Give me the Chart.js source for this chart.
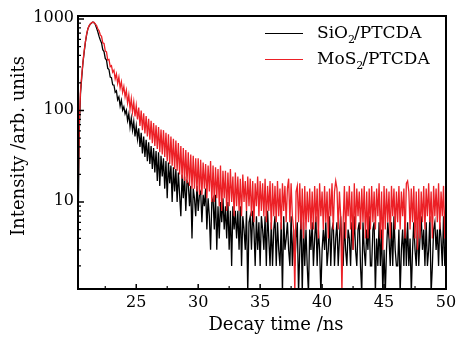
<!DOCTYPE html>
<html>
<head>
<meta charset="utf-8">
<script src="https://cdn.jsdelivr.net/npm/chart.js@4.4.1/dist/chart.umd.min.js"></script>
<style>
  html, body { margin: 0; padding: 0; background: #fff; }
  #wrap { width: 458px; height: 337px; }
</style>
</head>
<body>
<div id="wrap"><canvas id="decayChart" width="458" height="337"></canvas></div>
<script>
// time grid of the decay traces (ns), one sample every 0.1 ns from 20.2 to 50.0
const decayStart = 20.2;
const decayStep = 0.1;

// SiO2/PTCDA counts, one row per ns
const sio2Counts = [
  2, 4, 58, 152, 228, 334, 436, 562, 676, 784,
  838, 884, 906, 927, 908, 873, 796, 724, 646, 590,
  548, 462, 441, 371, 356, 289, 281, 232, 229, 191,
  190, 158, 164, 131, 141, 112, 129, 101, 110, 92,
  101, 78, 92, 66, 83, 61, 76, 52, 68, 49,
  64, 40, 57, 34, 52, 31, 48, 28, 45, 26,
  41, 23, 39, 21, 36, 17, 35, 15, 32, 19,
  30, 14, 28, 11, 27, 16, 25, 10, 24, 13,
  23, 10, 21, 12, 7, 20, 11, 19, 8, 17,
  16, 9, 15, 4, 14, 11, 7, 15, 8, 12,
  13, 6, 12, 9, 14, 5, 11, 7, 3, 10,
  11, 5, 12, 3, 9, 4, 10, 6, 11, 5,
  9, 4, 10, 3, 8, 2, 9, 5, 8, 4,
  8, 3, 9, 2, 7, 5, 3, 8, 1, 6,
  7, 3, 8, 5, 2, 7, 3, 6, 2, 7,
  5, 3, 7, 2, 8, 4, 2, 6, 2, 5,
  7, 2, 6, 3, 2, 6, 1, 7, 3, 4,
  6, 3, 2, 7, 2, 5, 2, 4, 6, 1,
  3, 7, 1, 6, 2, 5, 2, 1, 5, 3,
  6, 2, 4, 7, 2, 5, 3, 1, 3, 5,
  3, 6, 2, 3, 7, 2, 5, 6, 2, 4,
  6, 2, 4, 7, 3, 2, 6, 3, 2, 5,
  4, 2, 6, 3, 7, 3, 2, 5, 6, 2,
  1, 6, 3, 2, 5, 3, 7, 2, 2, 5,
  6, 1, 4, 2, 6, 2, 5, 1, 3, 1,
  3, 6, 4, 2, 6, 2, 7, 3, 2, 2,
  5, 1, 3, 5, 2, 7, 2, 6, 2, 4,
  1, 3, 6, 3, 2, 6, 2, 4, 7, 3,
  5, 2, 6, 2, 3, 7, 1, 2, 5, 6,
  3, 5, 2, 6, 4, 2, 7, 2, 4
];

// MoS2/PTCDA counts, same grid
const mos2Counts = [
  6, 10, 68, 162, 244, 338, 452, 568, 694, 782,
  848, 882, 915, 922, 918, 880, 846, 782, 742, 672,
  648, 548, 541, 448, 437, 356, 362, 301, 309, 262,
  276, 222, 251, 198, 232, 176, 206, 158, 183, 141,
  166, 121, 148, 104, 135, 96, 124, 86, 113, 80,
  108, 68, 100, 61, 93, 56, 87, 52, 81, 48,
  77, 44, 73, 41, 69, 38, 66, 35, 62, 33,
  61, 31, 57, 28, 55, 26, 52, 25, 49, 23,
  47, 22, 44, 20, 41, 18, 39, 17, 37, 16,
  35, 15, 33, 14, 32, 14, 30, 13, 30, 12,
  29, 12, 27, 14, 26, 11, 25, 13, 28, 10,
  25, 10, 24, 11, 23, 9, 25, 8, 22, 11,
  22, 8, 21, 9, 23, 10, 19, 7, 21, 9,
  19, 8, 18, 7, 20, 10, 17, 8, 19, 9,
  18, 7, 17, 6, 16, 9, 19, 7, 17, 8,
  16, 7, 18, 6, 15, 8, 17, 5, 16, 7,
  15, 6, 17, 7, 14, 5, 16, 8, 15, 6,
  14, 18, 6, 16, 7, 5, 1, 13, 15, 6,
  16, 5, 14, 4, 15, 5, 13, 6, 14, 5,
  13, 5, 15, 6, 14, 4, 16, 7, 13, 5,
  15, 6, 13, 4, 14, 7, 16, 5, 13, 17,
  14, 5, 13, 7, 1, 6, 15, 4, 13, 7,
  15, 5, 13, 3, 16, 5, 14, 7, 13, 5,
  14, 6, 15, 4, 13, 4, 14, 5, 15, 6,
  13, 5, 14, 7, 16, 4, 13, 3, 15, 5,
  14, 6, 13, 4, 15, 7, 14, 5, 13, 6,
  15, 5, 13, 7, 14, 4, 16, 17, 13, 5,
  14, 6, 15, 4, 13, 3, 14, 4, 13, 6,
  15, 5, 14, 7, 16, 6, 13, 4, 15, 7,
  14, 6, 16, 5, 13, 7, 15, 4, 13
];

// axis ticks
const xTicks = [25, 30, 35, 40, 45, 50];
const xMinorTicks = [22.5, 27.5, 32.5, 37.5, 42.5, 47.5];
const yTicks = [10, 100, 1000];
const yTickLabels = ["10", "100", "1000"];

const seriesNames = ["SiO", "MoS"];
const serif = "'DejaVu Serif', 'Liberation Serif', serif";

const toPoints = (counts) =>
  counts.map((c, i) => ({ x: +(decayStart + i * decayStep).toFixed(1), y: c }));

// frame, inward ticks, labels and legend drawn over the plot
const decorations = {
  id: "decorations",
  afterDraw(chart) {
    const { ctx, chartArea: a } = chart;
    const xs = chart.scales.x;
    const ys = chart.scales.y;
    ctx.save();

    // ticks
    ctx.strokeStyle = "#000";
    ctx.lineWidth = 1.5;
    ctx.beginPath();
    xTicks.forEach((v) => {
      const px = xs.getPixelForValue(v);
      ctx.moveTo(px, a.bottom);
      ctx.lineTo(px, a.bottom - 5);
    });
    yTicks.forEach((v) => {
      const py = ys.getPixelForValue(v);
      ctx.moveTo(a.left, py);
      ctx.lineTo(a.left + 6, py);
    });
    ctx.stroke();
    ctx.lineWidth = 1.2;
    ctx.beginPath();
    xMinorTicks.forEach((v) => {
      const px = xs.getPixelForValue(v);
      ctx.moveTo(px, a.bottom);
      ctx.lineTo(px, a.bottom - 3);
    });
    [1, 10, 100].forEach((dec) => {
      for (let m = 2; m <= 9; m++) {
        const v = dec * m;
        if (v < ys.min || v > ys.max) continue;
        const py = ys.getPixelForValue(v);
        ctx.moveTo(a.left, py);
        ctx.lineTo(a.left + 3, py);
      }
    });
    ctx.stroke();

    // frame
    ctx.lineWidth = 2;
    ctx.strokeRect(a.left, a.top, a.right - a.left, a.bottom - a.top);

    // tick labels
    ctx.fillStyle = "#000";
    ctx.font = "16px " + serif;
    ctx.textAlign = "center";
    ctx.textBaseline = "middle";
    xTicks.forEach((v) => ctx.fillText(String(v), xs.getPixelForValue(v), a.bottom + 14));
    ctx.textAlign = "right";
    yTicks.forEach((v, i) => ctx.fillText(yTickLabels[i], a.left - 4, ys.getPixelForValue(v) - 1));

    // axis titles
    ctx.font = "18px " + serif;
    ctx.textAlign = "center";
    ctx.textBaseline = "alphabetic";
    ctx.fillText("Decay time /ns", a.left + 198, a.bottom + 41);
    ctx.save();
    ctx.translate(24, a.top + 130);
    ctx.rotate(-Math.PI / 2);
    ctx.fillText("Intensity /arb. units", 0, 0);
    ctx.restore();

    // legend
    const rows = [
      { name: seriesNames[0], color: "#000", y: 33 },
      { name: seriesNames[1], color: "rgb(236,32,38)", y: 59 },
    ];
    rows.forEach((r) => {
      ctx.strokeStyle = r.color;
      ctx.lineWidth = 1;
      ctx.beginPath();
      ctx.moveTo(265, r.y + 0.5);
      ctx.lineTo(303, r.y + 0.5);
      ctx.stroke();
      ctx.textAlign = "left";
      ctx.textBaseline = "alphabetic";
      ctx.font = "17px " + serif;
      let tx = 317;
      const base = r.y + 5;
      ctx.fillText(r.name, tx, base);
      tx += ctx.measureText(r.name).width;
      ctx.font = "11px " + serif;
      ctx.fillText("2", tx, base + 5);
      tx += ctx.measureText("2").width - 1;
      ctx.font = "17px " + serif;
      ctx.fillText("/PTCDA", tx, base);
    });

    ctx.restore();
  },
};

const decayChart = new Chart(document.getElementById("decayChart"), {
  type: "line",
  data: {
    datasets: [
      {
        label: "SiO2/PTCDA",
        data: toPoints(sio2Counts),
        borderColor: "#000",
        borderWidth: 1.3,
        pointRadius: 0,
        order: 2,
      },
      {
        label: "MoS2/PTCDA",
        data: toPoints(mos2Counts),
        borderColor: "rgb(236,32,38)",
        borderWidth: 1.3,
        pointRadius: 0,
        order: 1,
      },
    ],
  },
  options: {
    responsive: false,
    animation: false,
    devicePixelRatio: 1,
    layout: { padding: { left: 78, right: 12, top: 16, bottom: 48 } },
    elements: { line: { tension: 0 } },
    plugins: { legend: { display: false }, tooltip: { enabled: false } },
    scales: {
      x: { type: "linear", min: 20.3, max: 50, display: false },
      y: { type: "logarithmic", min: 1.12, max: 1079, display: false },
    },
  },
  plugins: [decorations],
});
</script>
</body>
</html>
